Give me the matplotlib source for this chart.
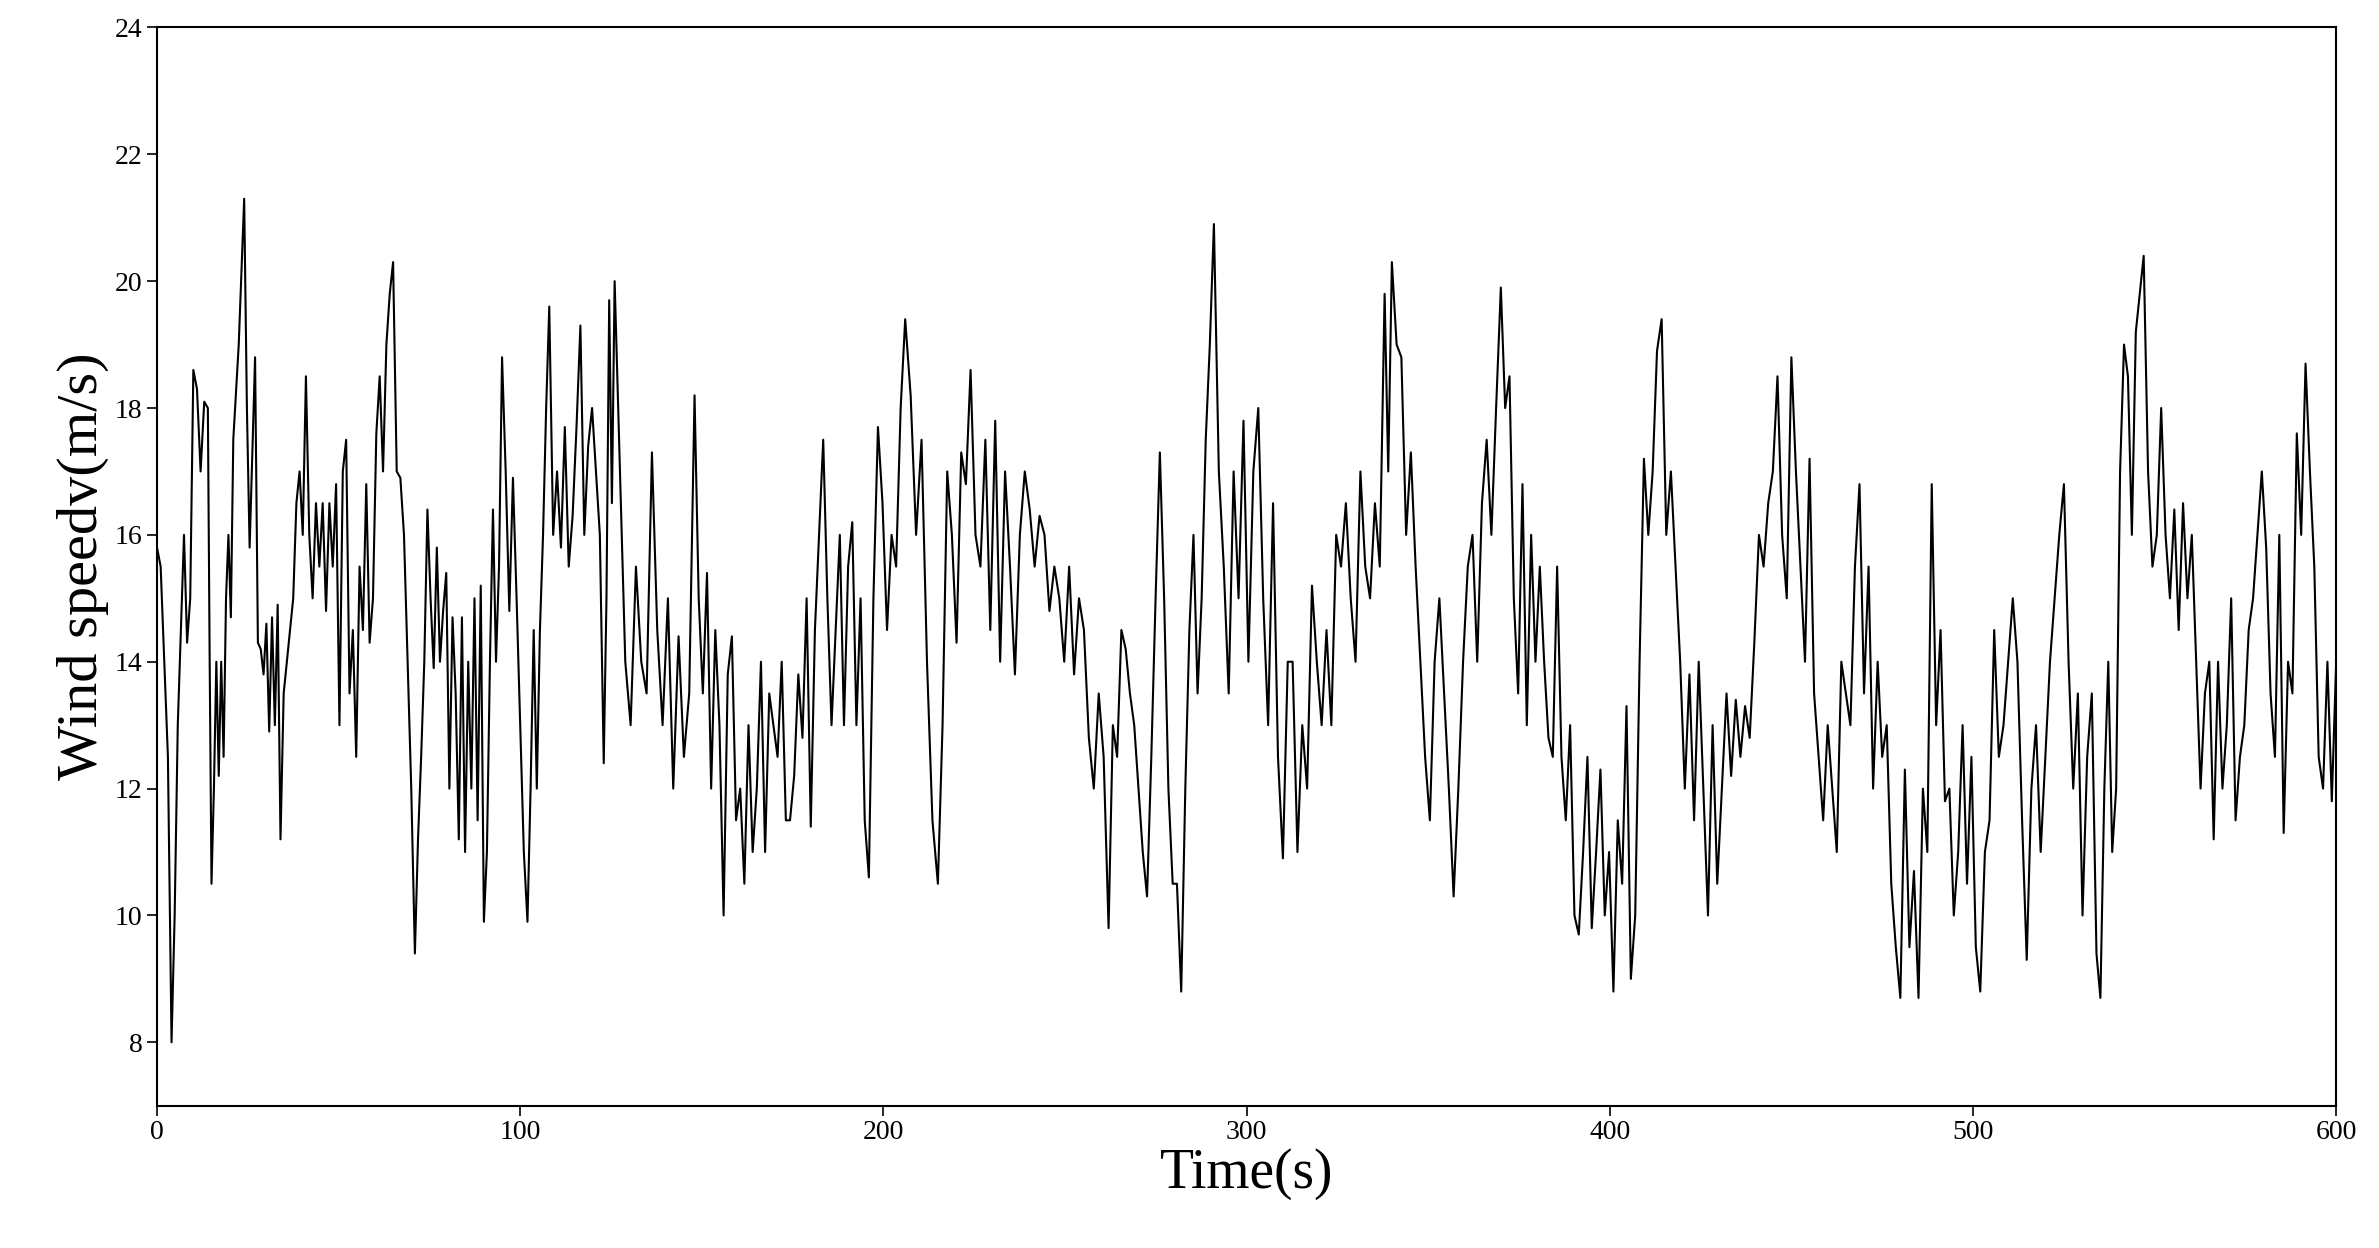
import numpy as np
import matplotlib
matplotlib.use("Agg")
import matplotlib.pyplot as plt

# Wind speed, grouped by the time (s) at which each group starts
seg_start = [0, 4, 10, 14, 15, 21, 24, 27, 34, 41, 65, 71, 90, 95, 102, 108, 123, 126, 148, 156,
             196, 206, 215, 224, 262, 282, 291, 310, 338, 340, 357, 370, 401, 413, 450, 480, 485,
             502, 534, 547]
seg_end_time = 600
seg_values = [
    [15.8,15.5,14,12.5],
    [8.0,10,13,14.5,16,14.3,15],
    [18.6,18.3,17,18.1],
    [18,14],
    [10.5,12,14,12.2,14,12.5,15,16,14.7],
    [17.5,19],
    [21.3,18,15.8,17.3],
    [18.8,14.3,14.2,13.8,14.6,12.9,14.7,13,14.9],
    [11.2,13.5,14,14.5,15,16.5,17,16],
    [18.5,16,15,16.5,15.5,16.5,14.8,16.5,15.5,16.8,13,17,17.5,13.5,14.5,12.5,15.5,14.5,16.8,14.3,15,17.6,18.5,17,19,19.8],
    [20.3,17,16.9,16,14,12],
    [9.4,11.2,12.5,14,16.4,15,13.9,15.8,14,14.8,15.4,12,14.7,13.5,11.2,14.7,11,14,12,15,11.5,15.2],
    [9.9,11,14,16.4,14,15.5],
    [18.8,17,14.8,16.9,15,13,11],
    [9.9,12,14.5,12,14.5,16,18],
    [19.6,16,17,15.8,17.7,15.5,16.3,17.7,19.3,16,17.4,18,17,16],
    [12.4,15,19.7,16.5],
    [20,17,14,13,15.5,14,13.5,17.3,14.5,13,15,12,14.4,12.5,13.5],
    [18.2,15,13.5,15.4,12,14.5,13],
    [10,13.8,14.4,11.5,12,10.5,13,11,12,14,11,13.5,13,12.5,14,11.5,11.5,12.2,13.8,12.8,15,11.4,14.5,16,17.5,15,13,14.5,16,13,15.5,16.2,13,15,11.5],
    [10.6,15,17.7,16.5,14.5,16,15.5,18],
    [19.4,18.2,16,17.5,14,11.5],
    [10.5,13,17,16,14.3,17.3,16.8],
    [18.6,16,15.5,17.5,14.5,17.8,14,17,15.5,13.8,16,17,16.4,15.5,16.3,16,14.8,15.5,15,14,15.5,13.8,15,14.5,12.8,12,13.5,12.5],
    [9.8,13,12.5,14.5,14.2,13.5,13,12,11,10.3,12.5,15,17.3,15,12,10.5,10.5],
    [8.8,12,14.5,16,13.5,15,17.5,19],
    [20.9,17,15.5,13.5,17,15,17.8,14,17,18,15,13,16.5,12.5],
    [10.9,14,14,11,13,12,15.2,14,13,14.5,13,16,15.5,16.5,15,14,17,15.5,15,16.5,15.5],
    [19.8,17],
    [20.3,19,18.8,16,17.3,15.5,14,12.5,11.5,14,15,13.5,12],
    [10.3,12,14,15.5,16,14,16.5,17.5,16,18],
    [19.9,18,18.5,15,13.5,16.8,13,16,14,15.5,14,12.8,12.5,15.5,12.5,11.5,13,10,9.7,11,12.5,9.8,11,12.3,10,11],
    [8.8,11.5,10.5,13.3,9,10,14,17.2,16,17],
    [18.9,19.4,16,17,15.5,14,12,13.8,11.5,14,12,10,13,10.5,12,13.5,12.2,13.4,12.5,13.3,12.8,14.3,16,15.5,16.5,17,18.5,16,15],
    [18.8,17,15.5,14,17.2,13.5,12.5,11.5,13,12,11,14,13.5,13,15.5,16.8,13.5,15.5,12,14,12.5,13,10.5,9.5],
    [8.7,12.3,9.5,10.7],
    [8.7,12,11,16.8,13,14.5,11.8,12,10,11,13,10.5,12.5,9.5],
    [8.8,11,11.5,14.5,12.5,13,14,15,14,11.5,9.3,12,13,11,12.5,14,15,16,16.8,14,12,13.5,10,12.5,13.5],
    [9.4,8.7,12,14,11,12,17,19,18.5,16,19.2,19.8],
    [20.4,17,15.5,16,18,16,15,16.4,14.5,16.5,15,16,14,12,13.5,14,11.2,14,12,13,15,11.5,12.5,13,14.5,15,16,17,15.8,13.5,12.5,16,11.3,14,13.5,17.6,16,18.7,17,15.5,12.5,12,14,11.8,14],
]

xticks = [0,100,200,300,400,500,600]
yticks = [8,10,12,14,16,18,20,22,24]

# place each group's readings evenly between its start time and the next group's start
time, wind = [], []
bounds = seg_start + [seg_end_time]
for i, vals in enumerate(seg_values):
    t0, t1 = bounds[i], bounds[i + 1]
    n = len(vals)
    if i == len(seg_values) - 1:
        ts = np.linspace(t0, t1, n)
    else:
        ts = t0 + (t1 - t0) * np.arange(n) / n
    time.extend(ts)
    wind.extend(vals)

plt.rcParams['font.family'] = ['Liberation Serif', 'DejaVu Serif']
fig = plt.figure(figsize=(23.79, 12.48), dpi=100)
ax = fig.add_axes([0.066, 0.114, 0.916, 0.864])
ax.plot(time, wind, color='black', lw=1.5)
ax.set_xlim(0, 600)
ax.set_ylim(7, 24)
ax.set_xticks(xticks)
ax.set_yticks(yticks)
ax.tick_params(direction='out', labelsize=20, length=7, width=1.2)
for s in ax.spines.values():
    s.set_linewidth(1.5)
ax.set_xlabel('Time(s)', fontsize=40, labelpad=2)
ax.set_ylabel('Wind speedv(m/s)', fontsize=42, labelpad=4)
fig.savefig('out.png', dpi=100)
